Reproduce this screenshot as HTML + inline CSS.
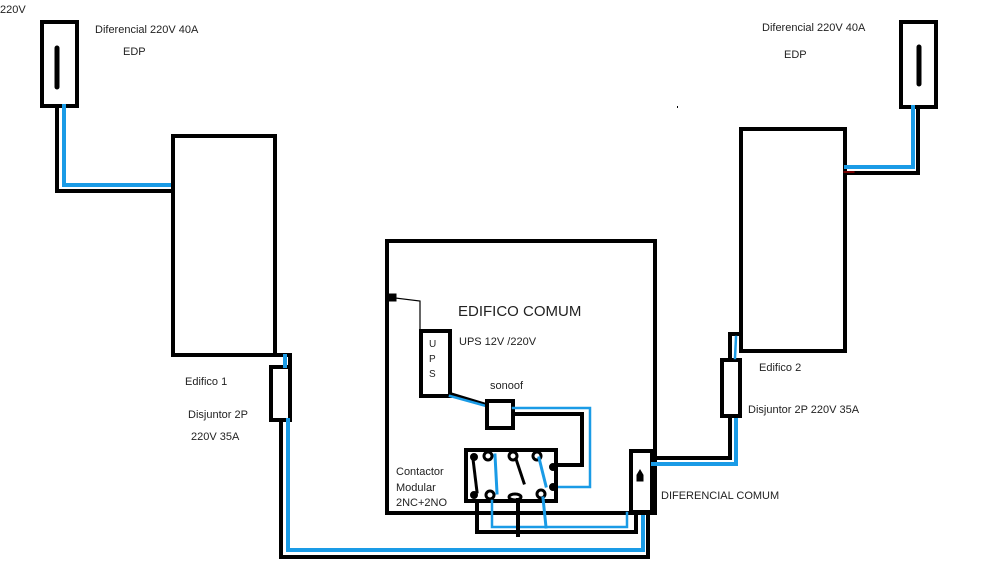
<!DOCTYPE html>
<html><head><style>
html,body{margin:0;padding:0;background:#fff;}
svg{display:block}
text{font-family:"Liberation Sans",sans-serif;fill:#222;}
</style></head><body>
<svg width="1000" height="563" viewBox="0 0 1000 563" xmlns="http://www.w3.org/2000/svg">
<g fill="none" stroke-linecap="square">
<!-- Top-left diferencial -->
<rect x="42" y="22" width="35" height="84" stroke="#000" stroke-width="4"/>
<line x1="57" y1="48" x2="57" y2="87" stroke="#000" stroke-width="5" stroke-linecap="round"/>
<polyline points="57,106 57,191 172,191" stroke="#000" stroke-width="4"/>
<polyline points="64,106 64,185 172,185" stroke="#1a9be6" stroke-width="4"/>
<!-- Building 1 -->
<rect x="173" y="136" width="102" height="219" stroke="#000" stroke-width="4"/>
<!-- Disjuntor 1 -->
<rect x="271" y="367" width="19" height="53" stroke="#000" stroke-width="4"/>
<polyline points="275,355 290,355 290,367" stroke="#000" stroke-width="4"/>
<line x1="285" y1="356" x2="285" y2="366" stroke="#1a9be6" stroke-width="4"/>
<polyline points="281,420 281,557 648,557 648,512" stroke="#000" stroke-width="4"/>
<polyline points="288,420 288,550 643,550 643,512" stroke="#1a9be6" stroke-width="4"/>
<!-- Common box -->
<rect x="387" y="241" width="268" height="272" stroke="#000" stroke-width="4"/>
<rect x="389" y="294" width="7" height="7" fill="#000" stroke="#000" stroke-width="1"/>
<polyline points="395,298 420,301 420,331" stroke="#000" stroke-width="1.2"/>
<rect x="421" y="331" width="29" height="65" stroke="#000" stroke-width="4"/>
<line x1="450" y1="394" x2="486" y2="405" stroke="#000" stroke-width="4"/>
<line x1="450" y1="396" x2="486" y2="406" stroke="#1a9be6" stroke-width="2.5"/>
<rect x="487" y="401" width="26" height="27" stroke="#000" stroke-width="4"/>
<polyline points="513,408 590,408 590,487 558,487" stroke="#1a9be6" stroke-width="2.5"/>
<polyline points="513,414 582,414 582,465 558,465" stroke="#000" stroke-width="4"/>
<!-- Contactor -->
<rect x="466" y="450" width="90" height="51" stroke="#000" stroke-width="4"/>
<g stroke="#000" stroke-width="3">
<circle cx="474" cy="457" r="2.5" fill="#000"/>
<circle cx="488" cy="456" r="4"/>
<circle cx="513" cy="456" r="4"/>
<circle cx="537" cy="456" r="4"/>
<circle cx="474" cy="495" r="2.5" fill="#000"/>
<circle cx="490" cy="495" r="4"/>
<ellipse cx="515" cy="497" rx="6" ry="3"/>
<circle cx="541" cy="494" r="4"/>
<circle cx="553" cy="467" r="2.5" fill="#000"/>
<circle cx="553" cy="487" r="2.5" fill="#000"/>
<line x1="473" y1="459" x2="477" y2="492"/>
<line x1="516" y1="459" x2="524" y2="483"/>
</g>
<line x1="495" y1="455" x2="497" y2="493" stroke="#1a9be6" stroke-width="3"/>
<line x1="539" y1="458" x2="546" y2="486" stroke="#1a9be6" stroke-width="3"/>
<!-- below box wiring -->
<polyline points="477,501 477,532 636,532 636,512" stroke="#000" stroke-width="4"/>
<polyline points="492,501 492,527 627,527 627,513" stroke="#1a9be6" stroke-width="2.5"/>
<line x1="518" y1="500" x2="518" y2="535" stroke="#000" stroke-width="4"/>
<line x1="543" y1="498" x2="546" y2="527" stroke="#1a9be6" stroke-width="3"/>
<!-- Diferencial comum -->
<rect x="631" y="451" width="21" height="61" stroke="#000" stroke-width="4"/>
<path d="M637,475 l3,-5 l3,5 l0,6 l-6,0 z" fill="#000" stroke="#000" stroke-width="1"/>
<polyline points="652,458 730,458 730,416" stroke="#000" stroke-width="4"/>
<polyline points="653,464 736,464 736,416" stroke="#1a9be6" stroke-width="4"/>
<!-- Disjuntor 2 -->
<rect x="722" y="360" width="18" height="56" stroke="#000" stroke-width="4"/>
<polyline points="730,360 730,334 740,334" stroke="#000" stroke-width="4"/>
<line x1="736" y1="337" x2="735" y2="358" stroke="#1a9be6" stroke-width="2.5"/>
<!-- Building 2 -->
<rect x="741" y="129" width="104" height="222" stroke="#000" stroke-width="4"/>
<!-- Top right diferencial -->
<rect x="901" y="22" width="35" height="85" stroke="#000" stroke-width="4"/>
<line x1="919" y1="47" x2="919" y2="84" stroke="#000" stroke-width="5" stroke-linecap="round"/>
<polyline points="845,173 918,173 918,107" stroke="#000" stroke-width="4"/>
<polyline points="846,167 913,167 913,107" stroke="#1a9be6" stroke-width="4"/>
<line x1="844" y1="172" x2="854" y2="172" stroke="#e00" stroke-width="1"/>
<rect x="677" y="106" width="1" height="2" fill="#000" stroke="none"/>
</g>
<text x="0" y="13" font-size="11">220V</text>
<text x="95" y="33" font-size="11">Diferencial 220V 40A</text>
<text x="123" y="55" font-size="11">EDP</text>
<text x="762" y="31" font-size="11">Diferencial 220V 40A</text>
<text x="784" y="58" font-size="11">EDP</text>
<text x="185" y="385" font-size="11">Edifico 1</text>
<text x="188" y="418" font-size="11">Disjuntor 2P</text>
<text x="191" y="440" font-size="11">220V 35A</text>
<text x="458" y="316" font-size="15">EDIFICO COMUM</text>
<text x="459" y="345" font-size="11">UPS 12V /220V</text>
<text x="429" y="347" font-size="10">U</text>
<text x="429" y="362" font-size="10">P</text>
<text x="429" y="377" font-size="10">S</text>
<text x="490" y="389" font-size="11">sonoof</text>
<text x="396" y="475" font-size="11">Contactor</text>
<text x="396" y="491" font-size="11">Modular</text>
<text x="396" y="506" font-size="11">2NC+2NO</text>
<text x="661" y="499" font-size="11">DIFERENCIAL COMUM</text>
<text x="759" y="371" font-size="11">Edifico 2</text>
<text x="748" y="413" font-size="11">Disjuntor 2P 220V 35A</text>
</svg>
</body></html>
